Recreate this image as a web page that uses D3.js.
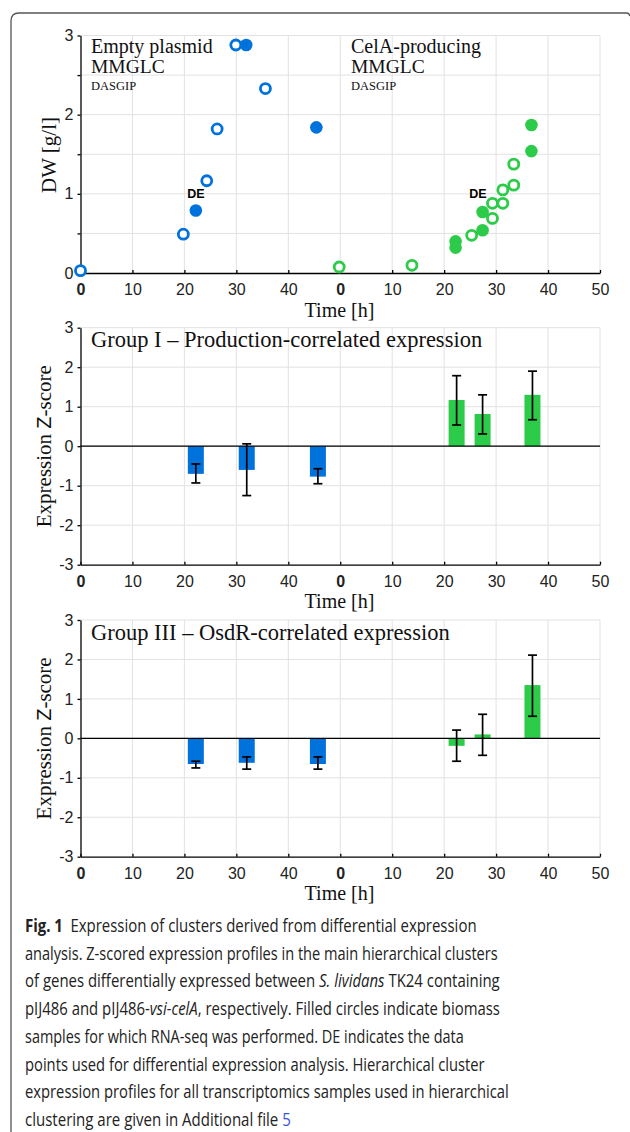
<!DOCTYPE html>
<html>
<head>
<meta charset="utf-8">
<script src="https://cdn.jsdelivr.net/npm/d3@7/dist/d3.min.js"></script>
<style>
body { margin: 0; background: #fff; }
.serif { font-family: "Liberation Serif", "DejaVu Serif", serif; fill: #111; }
.sans { font-family: "Liberation Sans", Arial, sans-serif; }
.axis path, .axis line { stroke: #000; stroke-width: 1.3; }
.axis text { font-family: "Liberation Sans", Arial, sans-serif; font-size: 16px; fill: #222; }
.grid { stroke: #e2e2e2; stroke-width: 1; }
</style>
</head>
<body>
<div id="fig"></div>
<script>
// shared time axis: empty plasmid run on 0..50, CelA run shifted by 50
var celaOffset = 50
var xTickValues = [0, 10, 20, 30, 40, 50, 60, 70, 80, 90, 100]
var xTickLabels = ["0", "10", "20", "30", "40", "0", "10", "20", "30", "40", "50"]

// panel A - dry weight [g/l]
var emptyOpenTime = [0, 19.8, 24.3, 26.3, 29.9, 35.6]
var emptyOpenDW = [0.03, 0.49, 1.165, 1.82, 2.88, 2.33]
var emptyFilledTime = [22.2, 31.9, 45.4]
var emptyFilledDW = [0.79, 2.88, 1.84]
var celaOpenTime = [-0.2, 13.8, 25.3, 29.3, 29.3, 31.3, 31.3, 33.4, 33.4]
var celaOpenDW = [0.076, 0.097, 0.476, 0.69, 0.88, 0.88, 1.05, 1.11, 1.375]
var celaFilledTime = [22.2, 22.2, 27.4, 27.4, 36.8, 36.8]
var celaFilledDW = [0.40, 0.32, 0.54, 0.77, 1.54, 1.87]
var deTime = [22.2, 26.5 + celaOffset]
var deDW = [1.0, 1.0]

// Z-score bars (RNA-seq samples)
var emptyBarTime = [22.2, 32.0, 45.7]
var celaBarTime = [22.4, 27.4, 37.0]

var g1EmptyZ = [-0.70, -0.60, -0.77]
var g1EmptyHi = [-0.45, 0.06, -0.57]
var g1EmptyLo = [-0.93, -1.25, -0.95]
var g1CelaZ = [1.17, 0.815, 1.30]
var g1CelaHi = [1.785, 1.30, 1.90]
var g1CelaLo = [0.537, 0.31, 0.67]

var g3EmptyZ = [-0.65, -0.62, -0.65]
var g3EmptyHi = [-0.58, -0.47, -0.47]
var g3EmptyLo = [-0.75, -0.78, -0.78]
var g3CelaZ = [-0.19, 0.10, 1.35]
var g3CelaHi = [0.21, 0.61, 2.11]
var g3CelaLo = [-0.58, -0.43, 0.56]

var blue = "#0072dc"
var green = "#2ccb49"

var x = d3.scaleLinear().domain([0, 100]).range([80.5, 600])

var svg = d3.select("#fig")
            .append("svg")
            .attr("width", 630)
            .attr("height", 1132)

// outer figure frame
svg.append("path")
    .attr("d", "M11,1145 L11,21 Q11,13 19,13 L627,13 Q629,13 630,16")
    .attr("fill", "none")
    .attr("stroke", "#555")
    .attr("stroke-width", 1.3)

function panel(top, bottom, domain, gridStep, timeBase) {
    var y = d3.scaleLinear().domain(domain).range([bottom, top])
    var g = svg.append("g")

    g.selectAll(".hgrid")
        .data(d3.range(domain[0] + gridStep, domain[1] + 0.001, gridStep))
        .enter().append("line")
        .attr("class", "grid")
        .attr("x1", x(0)).attr("x2", x(100))
        .attr("y1", function(d) { return y(d) })
        .attr("y2", function(d) { return y(d) })

    g.selectAll(".vgrid")
        .data(xTickValues.slice(1))
        .enter().append("line")
        .attr("class", "grid")
        .attr("x1", function(d) { return x(d) })
        .attr("x2", function(d) { return x(d) })
        .attr("y1", y(domain[0])).attr("y2", y(domain[1]))

    g.append("text")
        .attr("class", "serif")
        .attr("x", 339.5)
        .attr("y", timeBase)
        .attr("text-anchor", "middle")
        .style("font-size", "20px")
        .text("Time [h]")

    return { g: g, y: y }
}

function axes(p, domain, tickStep) {
    var xa = p.g.append("g")
        .attr("class", "axis")
        .attr("transform", "translate(0," + p.y(domain[0]) + ")")
        .call(d3.axisBottom(x).tickValues(xTickValues).tickSize(-3).tickSizeOuter(0).tickPadding(11)
              .tickFormat(function(d, i) { return xTickLabels[i] }))
    xa.selectAll("text")
        .style("font-weight", function(d, i) { return xTickLabels[i] == "0" ? "bold" : "normal" })
        .attr("dy", "0.71em")

    p.g.append("g")
        .attr("class", "axis")
        .attr("transform", "translate(" + x(0) + ",0)")
        .call(d3.axisLeft(p.y).tickValues(d3.range(domain[0], domain[1] + 0.001, tickStep))
              .tickSize(3).tickSizeOuter(0).tickPadding(4)
              .tickFormat(function(d) { return d % 1 == 0 ? d : "" }))
}

function ylabelZ(p, cy) {
    var t = p.g.append("text")
        .attr("class", "serif")
        .attr("transform", "translate(51," + cy + ") rotate(-90)")
        .attr("text-anchor", "middle")
        .style("font-size", "21px")
    t.append("tspan").text("Expression ")
    t.append("tspan").attr("class", "sans").style("font-size", "20px").text("Z")
    t.append("tspan").text("-score")
}

function bars(p, times, vals, lo, hi, color, offset) {
    var data = times.map(function(t, i) { return { t: t + offset, v: vals[i], lo: lo[i], hi: hi[i] } })
    p.g.selectAll(null)
        .data(data)
        .enter().append("rect")
        .attr("x", function(d) { return x(d.t) - 8 })
        .attr("width", 16)
        .attr("y", function(d) { return Math.min(p.y(d.v), p.y(0)) })
        .attr("height", function(d) { return Math.abs(p.y(d.v) - p.y(0)) })
        .attr("fill", color)
    return data
}

function errorbars(p, data) {
    var eb = p.g.selectAll(null).data(data).enter().append("g")
        .attr("stroke", "#000").attr("stroke-width", 1.7)
    eb.append("line")
        .attr("x1", function(d) { return x(d.t) }).attr("x2", function(d) { return x(d.t) })
        .attr("y1", function(d) { return p.y(d.lo) }).attr("y2", function(d) { return p.y(d.hi) })
    eb.append("line")
        .attr("x1", function(d) { return x(d.t) - 4.5 }).attr("x2", function(d) { return x(d.t) + 4.5 })
        .attr("y1", function(d) { return p.y(d.lo) }).attr("y2", function(d) { return p.y(d.lo) })
    eb.append("line")
        .attr("x1", function(d) { return x(d.t) - 4.5 }).attr("x2", function(d) { return x(d.t) + 4.5 })
        .attr("y1", function(d) { return p.y(d.hi) }).attr("y2", function(d) { return p.y(d.hi) })
}

// ---------- panel A : DW ----------
var pA = panel(35.5, 273, [0, 3], 0.5, 316.5)
axes(pA, [0, 3], 0.5)

pA.g.append("text")
    .attr("class", "serif")
    .attr("transform", "translate(56,155) rotate(-90)")
    .attr("text-anchor", "middle")
    .style("font-size", "21px")
    .text("DW [g/l]")

var notes = [
    { x: 91, lines: ["Empty plasmid", "MMGLC", "DASGIP"] },
    { x: 351, lines: ["CelA-producing", "MMGLC", "DASGIP"] }
]
var noteBase = [53.3, 72.5, 90.3]
var noteSize = ["20px", "19.5px", "12.5px"]
notes.forEach(function(n) {
    n.lines.forEach(function(l, i) {
        pA.g.append("text").attr("class", "serif")
            .attr("x", n.x).attr("y", noteBase[i])
            .style("font-size", noteSize[i]).text(l)
    })
})

pA.g.selectAll(".de")
    .data(deTime)
    .enter().append("text")
    .attr("class", "sans")
    .attr("x", function(d) { return x(d) })
    .attr("y", function(d, i) { return pA.y(deDW[i]) + 4.5 })
    .attr("text-anchor", "middle")
    .style("font-size", "12.5px")
    .style("font-weight", "bold")
    .text("DE")

function dots(times, dw, color, filled, offset) {
    pA.g.selectAll(null)
        .data(times)
        .enter().append("circle")
        .attr("cx", function(d) { return x(d + offset) })
        .attr("cy", function(d, i) { return pA.y(dw[i]) })
        .attr("r", filled ? 6.3 : 5)
        .attr("fill", filled ? color : "#fff")
        .attr("stroke", filled ? "none" : color)
        .attr("stroke-width", 2.8)
}
dots(emptyOpenTime, emptyOpenDW, blue, false, 0)
dots(emptyFilledTime, emptyFilledDW, blue, true, 0)
dots(celaOpenTime, celaOpenDW, green, false, celaOffset)
dots(celaFilledTime, celaFilledDW, green, true, celaOffset)

// ---------- Z-score panels ----------
function zPanel(top, bottom, timeBase, title, e, c) {
    var p = panel(top, bottom, [-3, 3], 1, timeBase)
    var d1 = bars(p, emptyBarTime, e[0], e[1], e[2], blue, 0)
    var d2 = bars(p, celaBarTime, c[0], c[1], c[2], green, celaOffset)
    p.g.append("line")
        .attr("x1", x(0)).attr("x2", x(100))
        .attr("y1", p.y(0)).attr("y2", p.y(0))
        .attr("stroke", "#000").attr("stroke-width", 1.3)
    errorbars(p, d1.concat(d2))
    axes(p, [-3, 3], 1)
    ylabelZ(p, (top + bottom) / 2)
    p.g.append("text").attr("class", "serif")
        .attr("x", 91).attr("y", top + 19.6)
        .style("font-size", "22.5px")
        .text(title)
}

zPanel(327.7, 564.7, 608, "Group I \u2013 Production-correlated expression",
       [g1EmptyZ, g1EmptyLo, g1EmptyHi], [g1CelaZ, g1CelaLo, g1CelaHi])
zPanel(620, 856.7, 900, "Group III \u2013 OsdR-correlated expression",
       [g3EmptyZ, g3EmptyLo, g3EmptyHi], [g3CelaZ, g3CelaLo, g3CelaHi])

// ---------- caption ----------
var captionLines = [
    [["Fig. 1", "b"], ["\u2002Expression of clusters derived from differential expression", ""]],
    [["analysis. Z-scored expression profiles in the main hierarchical clusters", ""]],
    [["of genes differentially expressed between ", ""], ["S. lividans", "i"], [" TK24 containing", ""]],
    [["pIJ486 and pIJ486-", ""], ["vsi-celA", "i"], [", respectively. Filled circles indicate biomass", ""]],
    [["samples for which RNA-seq was performed. DE indicates the data", ""]],
    [["points used for differential expression analysis. Hierarchical cluster", ""]],
    [["expression profiles for all transcriptomics samples used in hierarchical", ""]],
    [["clustering are given in Additional file ", ""], ["5", "l"]]
]
var captionWidth = [452, 473, 475, 475, 439, 460, 484, 266]

captionLines.forEach(function(line, i) {
    var t = svg.append("text")
        .attr("x", 0)
        .attr("y", 0)
        .style("font-family", "'Open Sans', 'Noto Sans', sans-serif")
        .style("font-size", "17.5px")
        .style("fill", "#222")
    line.forEach(function(seg) {
        t.append("tspan")
            .style("font-weight", seg[1] == "b" ? "bold" : "normal")
            .style("font-style", seg[1] == "i" ? "italic" : "normal")
            .style("fill", seg[1] == "l" ? "#3a55d8" : null)
            .text(seg[0])
    })
    // squeeze horizontally to the condensed width of the original typeface
    var w = t.node().getComputedTextLength()
    t.attr("transform", "translate(25," + (932 + i * 27.7) + ") scale(" + (captionWidth[i] / w) + ",1)")
})
</script>
</body>
</html>
